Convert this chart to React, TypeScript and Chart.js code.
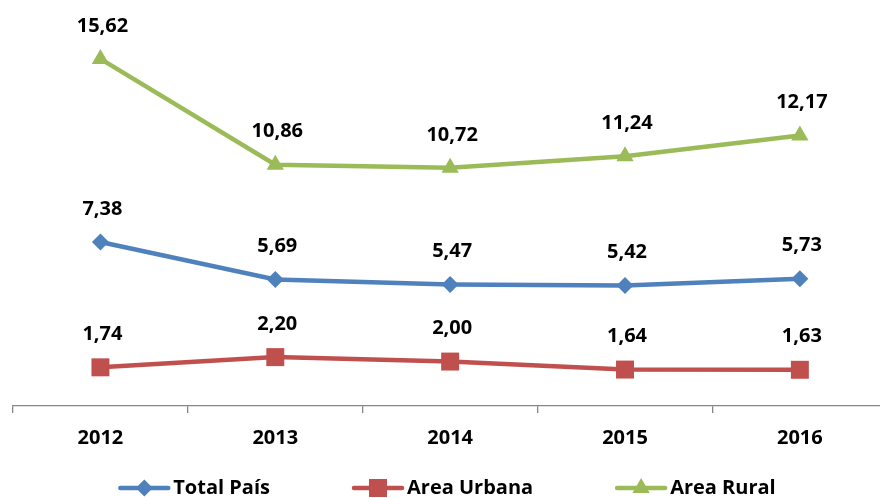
import React, { useEffect, useRef } from "react";
import { Chart, registerables } from "chart.js";

Chart.register(...registerables);

const categories = ["2012", "2013", "2014", "2015", "2016"];
const totalPais = [7.38, 5.69, 5.47, 5.42, 5.73];
const areaUrbana = [1.74, 2.2, 2.0, 1.64, 1.63];
const areaRural = [15.62, 10.86, 10.72, 11.24, 12.17];
const seriesNames = ["Total País", "Area Urbana", "Area Rural"];

const BLUE = "#4F81BD";
const RED = "#C0504D";
const GREEN = "#9BBB59";
const FONT = "'Open Sans'";
const FSIZE = 20;

const fmt = (v: number) => v.toFixed(2).replace(".", ",");

function drawMarker(ctx: CanvasRenderingContext2D, style: string, x: number, y: number, color: string) {
  ctx.fillStyle = color;
  ctx.beginPath();
  if (style === "rectRot") {
    const r = 8.5;
    ctx.moveTo(x, y - r);
    ctx.lineTo(x + r, y);
    ctx.lineTo(x, y + r);
    ctx.lineTo(x - r, y);
  } else if (style === "rect") {
    const h = 9;
    ctx.rect(x - h, y - h, 2 * h, 2 * h);
  } else {
    const r = 10;
    ctx.moveTo(x, y - r);
    ctx.lineTo(x + r * 0.866, y + r / 2);
    ctx.lineTo(x - r * 0.866, y + r / 2);
  }
  ctx.closePath();
  ctx.fill();
}

const dataLabelPlugin = {
  id: "dataLabels",
  afterDatasetsDraw(chart: any) {
    const ctx = chart.ctx;
    ctx.save();
    ctx.font = `bold ${FSIZE}px ${FONT}`;
    ctx.fillStyle = "#000";
    ctx.textAlign = "center";
    ctx.textBaseline = "middle";
    chart.data.datasets.forEach((ds: any, i: number) => {
      const meta = chart.getDatasetMeta(i);
      meta.data.forEach((el: any, j: number) => {
        ctx.fillText(fmt(ds.data[j]), el.x + 2, el.y - 33);
      });
    });
    ctx.restore();
  },
};

const legendPlugin = {
  id: "customLegend",
  afterDraw(chart: any) {
    const ctx = chart.ctx;
    ctx.save();
    ctx.font = `bold ${FSIZE}px ${FONT}`;
    const lineW = 52;
    const gapText = 3;
    const gapItem = 82;
    const items = chart.data.datasets.map((ds: any) => ({
      label: ds.label,
      color: ds.borderColor,
      style: ds.pointStyle,
      tw: ctx.measureText(ds.label).width,
    }));
    const total = items.reduce((s: number, it: any) => s + lineW + gapText + it.tw, 0) + gapItem * (items.length - 1);
    let x = chart.width / 2 - 3 - total / 2;
    const y = chart.height - 10;
    items.forEach((it: any) => {
      ctx.strokeStyle = it.color;
      ctx.lineWidth = 4.5;
      ctx.lineCap = "round";
      ctx.beginPath();
      ctx.moveTo(x + 2, y);
      ctx.lineTo(x + lineW - 2, y);
      ctx.stroke();
      drawMarker(ctx, it.style, x + lineW / 2, y, it.color);
      ctx.fillStyle = "#000";
      ctx.textAlign = "left";
      ctx.textBaseline = "middle";
      ctx.fillText(it.label, x + lineW + gapText, y);
      x += lineW + gapText + it.tw + gapItem;
    });
    ctx.restore();
  },
};

export default function App() {
  const ref = useRef<HTMLCanvasElement | null>(null);
  useEffect(() => {
    if (!ref.current) return;
    const mk = (label: string, data: number[], color: string, pointStyle: string, radius: number) => ({
      label,
      data,
      borderColor: color,
      backgroundColor: color,
      borderWidth: 4.5,
      pointStyle,
      pointRadius: radius,
      pointHoverRadius: radius,
      pointBorderWidth: 0,
      pointBackgroundColor: color,
      tension: 0,
      clip: false as any,
    });
    const chart = new Chart(ref.current, {
      type: "line",
      data: {
        labels: categories,
        datasets: [
          mk(seriesNames[0], totalPais, BLUE, "rectRot", 8.5),
          mk(seriesNames[1], areaUrbana, RED, "rect", 12.7),
          mk(seriesNames[2], areaRural, GREEN, "triangle", 10),
        ],
      },
      options: {
        responsive: false,
        animation: false,
        devicePixelRatio: 1,
        layout: { padding: { left: 13, right: 9, top: 4, bottom: 35 } },
        plugins: { legend: { display: false }, tooltip: { enabled: false } },
        scales: {
          x: {
            offset: true,
            grid: {
              display: true,
              drawOnChartArea: false,
              drawTicks: true,
              tickLength: 7,
              offset: true,
              color: "#868686",
              lineWidth: 1.3,
            },
            border: { display: true, color: "#868686", width: 1.3 },
            ticks: {
              color: "#000",
              font: { family: FONT, size: FSIZE, weight: "bold" },
              padding: 13,
            },
          },
          y: {
            display: false,
            min: 0,
            max: 17.7,
          },
        },
      },
      plugins: [dataLabelPlugin, legendPlugin],
    } as any);
    return () => chart.destroy();
  }, []);
  return (
    <div
      style={{
        position: "fixed",
        left: 0,
        top: 0,
        width: 880,
        height: 498,
        overflow: "hidden",
        background: "#fff",
      }}
    >
      <canvas ref={ref} width={900} height={498} style={{ width: 900, height: 498, display: "block" }} />
    </div>
  );
}
